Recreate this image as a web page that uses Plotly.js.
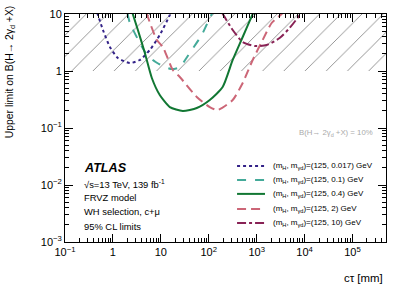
<!DOCTYPE html>
<html>
<head>
<meta charset="utf-8">
<script src="https://cdn.plot.ly/plotly-3.0.1.min.js"></script>
<style>html,body{margin:0;padding:0;background:#fff;}#chart{width:407px;height:289px;}</style>
</head>
<body>
<div id="chart"></div>
<script>
// Data (ctau in mm, upper limit on B)
const seriesNames = [
  '(m<sub>H</sub>, m<sub>γd</sub>)=(125, 0.017) GeV',
  '(m<sub>H</sub>, m<sub>γd</sub>)=(125, 0.1) GeV',
  '(m<sub>H</sub>, m<sub>γd</sub>)=(125, 0.4) GeV',
  '(m<sub>H</sub>, m<sub>γd</sub>)=(125, 2) GeV',
  '(m<sub>H</sub>, m<sub>γd</sub>)=(125, 10) GeV'
];
const ct_0017 = [0.47, 0.62, 0.866, 1.27, 2.26, 3.65, 5.9, 9.5, 15.4, 16.5];
const lim_0017 = [10.5, 5.24, 2.64, 1.69, 1.38, 1.56, 2.34, 4.28, 9.6, 11];
const ct_01 = [2.0, 2.26, 3.65, 4.87, 6.81, 11.0, 16.9, 24.9, 36.5, 44.3, 71.4, 105, 121];
const lim_01 = [10.5, 6.95, 3.1, 2.07, 1.56, 1.22, 1.08, 1.17, 1.83, 2.34, 4.28, 8.5, 10.8];
const ct_04 = [2.55, 3.32, 4.64, 6.49, 9.5, 15.4, 28.7, 56.2, 105, 195, 316, 511, 826, 900];
const lim_04 = [10.5, 5.24, 2.07, 0.754, 0.379, 0.233, 0.199, 0.224, 0.31, 0.524, 1.56, 3.95, 10, 12];
const ct_2 = [5.0, 8.25, 11.0, 17.8, 24.9, 56.2, 105, 154, 316, 511, 826, 1334, 2054, 3311, 3600];
const lim_2 = [10.5, 3.5, 2.64, 1.04, 0.785, 0.35, 0.233, 0.207, 0.31, 0.615, 1.56, 3.5, 6.95, 10, 11];
const ct_10 = [190, 316, 511, 909, 1616, 3013, 4870, 7870, 8500];
const lim_10 = [10.5, 5.24, 3.23, 2.75, 2.86, 3.79, 5.68, 9.6, 11];

const xRange = [0.1, 5e5];
const excludedBand = [1, 10];
const refBR = 0.1;

const xTickVals = [0.1, 1, 10, 100, 1000, 1e4, 1e5];
const xTickText = ['10<sup>−1</sup>', '1', '10', '10<sup>2</sup>', '10<sup>3</sup>', '10<sup>4</sup>', '10<sup>5</sup>'];
const yTickVals = [0.001, 0.01, 0.1, 1, 10];
const yTickText = ['10<sup>−3</sup>', '10<sup>−2</sup>', '10<sup>−1</sup>', '1', '10'];

const colors = ['#332288', '#44AA99', '#117733', '#CC6677', '#882255'];
const dashes = ['dot', 'dash', 'solid', '9px,5px', 'dashdot'];

function minorVals(lo, hi) {
  const v = [];
  for (let e = lo; e < hi; e++) for (let d = 2; d <= 9; d++) v.push(d * Math.pow(10, e));
  return v;
}

const FONT = 'Liberation Sans, Arial, Helvetica, sans-serif';
const xs = [ct_0017, ct_01, ct_04, ct_2, ct_10];
const ys = [lim_0017, lim_01, lim_04, lim_2, lim_10];

const traces = [{
  x: [xRange[0], xRange[1], xRange[1], xRange[0], xRange[0]],
  y: [excludedBand[0], excludedBand[0], excludedBand[1], excludedBand[1], excludedBand[0]],
  fill: 'toself', mode: 'lines', line: {width: 0},
  fillcolor: 'rgba(0,0,0,0)',
  fillpattern: {shape: '/', fgcolor: '#8a8a8a', bgcolor: 'rgba(255,255,255,0)', size: 15, solidity: 0.06},
  showlegend: false, hoverinfo: 'skip'
}];
for (let i = 0; i < 5; i++) {
  traces.push({
    x: xs[i], y: ys[i], name: seriesNames[i], mode: 'lines', showlegend: false,
    line: {color: colors[i], width: 2, dash: dashes[i], shape: 'spline', smoothing: 0.6}
  });
}

const axisCommon = {
  type: 'log', showgrid: false, zeroline: false, showline: true, linecolor: '#000', linewidth: 1,
  mirror: 'allticks', ticks: 'inside', ticklen: 8, tickcolor: '#000', tickwidth: 1,
  tickfont: {family: FONT, size: 11, color: '#000'}
};

// Manual legend (swatch shapes + labels), laid out in paper coordinates
const legX0 = 0.536, legX1 = 0.623, legTextX = 0.642;
const legRows = [0.333, 0.272, 0.211, 0.145, 0.083];

const shapes = [
  {type: 'line', xref: 'paper', x0: 0, x1: 1, yref: 'y', y0: 0, y1: 0, line: {color: '#aaaaaa', width: 1}},
  {type: 'line', xref: 'paper', x0: 0, x1: 1, yref: 'y', y0: Math.log10(refBR), y1: Math.log10(refBR), line: {color: '#888888', width: 1, dash: 'dot'}}
];
const TXT = 9.4;
const annotations = [
  {xref: 'paper', yref: 'paper', x: 0.966, y: 0.51, xanchor: 'right', yanchor: 'top', showarrow: false,
   text: 'B(H→ 2γ<sub>d</sub> +X) = 10%', font: {family: FONT, size: 7.8, color: '#aaaaaa'}},
  {xref: 'paper', yref: 'paper', x: 0.054, y: 0.325, xanchor: 'left', yanchor: 'middle', showarrow: false,
   text: '<b><i>ATLAS</i></b>', font: {family: FONT, size: 12.6, color: '#000'}},
  {xref: 'paper', yref: 'paper', x: 0.054, y: 0.254, xanchor: 'left', yanchor: 'middle', showarrow: false,
   text: '√s=13 TeV, 139 fb<sup>-1</sup>', font: {family: FONT, size: TXT, color: '#000'}},
  {xref: 'paper', yref: 'paper', x: 0.054, y: 0.193, xanchor: 'left', yanchor: 'middle', showarrow: false,
   text: 'FRVZ model', font: {family: FONT, size: TXT, color: '#000'}},
  {xref: 'paper', yref: 'paper', x: 0.054, y: 0.132, xanchor: 'left', yanchor: 'middle', showarrow: false,
   text: 'WH selection, c+μ', font: {family: FONT, size: TXT, color: '#000'}},
  {xref: 'paper', yref: 'paper', x: 0.054, y: 0.070, xanchor: 'left', yanchor: 'middle', showarrow: false,
   text: '95% CL limits', font: {family: FONT, size: TXT, color: '#000'}},
  {xref: 'paper', yref: 'paper', x: 0.997, y: -0.158, xanchor: 'right', yanchor: 'middle', showarrow: false,
   text: 'cτ [mm]', font: {family: FONT, size: 11.4, color: '#000'}},
  {xref: 'paper', yref: 'paper', x: -0.171, y: 0.745, xanchor: 'center', yanchor: 'middle', showarrow: false,
   textangle: -90, text: 'Upper limit on B(H→ 2γ<sub>d</sub> +X)', font: {family: FONT, size: 10.4, color: '#000'}}
];
for (let i = 0; i < 5; i++) {
  shapes.push({type: 'line', xref: 'paper', yref: 'paper', x0: legX0, x1: legX1, y0: legRows[i], y1: legRows[i],
    line: {color: colors[i], width: 2, dash: dashes[i]}});
  annotations.push({xref: 'paper', yref: 'paper', x: legTextX, y: legRows[i], xanchor: 'left', yanchor: 'middle',
    showarrow: false, text: seriesNames[i], font: {family: FONT, size: 8, color: '#000'}});
}

const layout = {
  width: 407, height: 289,
  margin: {l: 65, r: 21, t: 14, b: 47},
  paper_bgcolor: '#fff', plot_bgcolor: '#fff',
  font: {family: FONT, color: '#000'},
  showlegend: false,
  xaxis: Object.assign({}, axisCommon, {
    range: [Math.log10(xRange[0]), Math.log10(xRange[1])],
    tickvals: xTickVals, ticktext: xTickText,
    minor: {tickvals: minorVals(-1, 6), ticks: 'inside', ticklen: 4, tickcolor: '#000', showgrid: false}
  }),
  yaxis: Object.assign({}, axisCommon, {
    range: [-3, 1],
    tickvals: yTickVals, ticktext: yTickText,
    minor: {tickvals: minorVals(-3, 1), ticks: 'inside', ticklen: 4, tickcolor: '#000', showgrid: false}
  }),
  shapes: shapes,
  annotations: annotations
};

Plotly.newPlot('chart', traces, layout, {displayModeBar: false, staticPlot: true});
</script>
</body>
</html>
